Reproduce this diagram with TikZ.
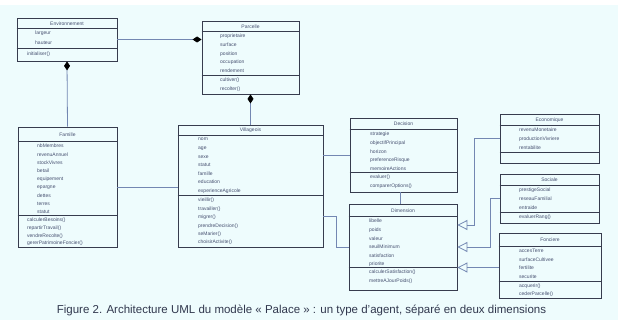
\documentclass[tikz,border=0pt]{standalone}
\usepackage{fontspec}
\setmainfont{Liberation Sans}
\usetikzlibrary{arrows.meta}

\definecolor{fond}{RGB}{238,252,253}
\definecolor{trait}{RGB}{55,60,78}
\definecolor{bleulien}{RGB}{115,135,178}
\definecolor{texte}{RGB}{70,80,112}

\tikzset{
  classe/.style={draw=trait, line width=0.8pt, inner sep=0pt},
  separ/.style={trait, line width=1.1pt},
  titre/.style={font=\fontsize{5}{6}\selectfont, text=texte, inner sep=0pt},
  liste/.style={font=\fontsize{5}{8.6}\selectfont, text=texte, align=left, inner sep=0pt, anchor=north west},
  lien/.style={draw=bleulien, line width=0.8pt},
  compo/.style={lien, -{Diamond[color=black,length=9pt,width=6pt]}},
  herit/.style={lien, -{Triangle[open,length=10pt,width=10pt]}},
}

\begin{document}
\begin{tikzpicture}[x=1pt,y=-1pt]
  \useasboundingbox (0,0) rectangle (618,320);
  \fill[fond] (0,5) rectangle (618,320);

  % classes
  \node[classe, minimum width=100pt, minimum height=43pt] (env) at (67,39.5) {};
  \draw[separ] (env.north west) ++(0,11) -- ++(100,0);
  \draw[separ] (env.north west) ++(0,31) -- ++(100,0);
  \node[titre] (env-t) at (67,23.5) {Environnement};
  \node[liste, font=\fontsize{5}{9.6}\selectfont] (env-a) at (35,31) {largeur\\hauteur};
  \node[liste] (env-o) at (27,52) {initialiser()};

  \node[classe, minimum width=97pt, minimum height=73pt] (parcelle) at (250.5,57.5) {};
  \draw[separ] (parcelle.north west) ++(0,11) -- ++(97,0);
  \draw[separ] (parcelle.north west) ++(0,55) -- ++(97,0);
  \node[titre] (parcelle-t) at (250.5,26.5) {Parcelle};
  \node[liste] (parcelle-a) at (220,34) {proprietaire\\surface\\position\\occupation\\rendement};
  \node[liste] (parcelle-o) at (220,78) {cultiver()\\recolter()};

  \node[classe, minimum width=99pt, minimum height=120pt] (famille) at (67.5,187) {};
  \draw[separ] (famille.north west) ++(0,15) -- ++(99,0);
  \draw[separ] (famille.north west) ++(0,89) -- ++(99,0);
  \node[titre] (famille-t) at (67.5,134.5) {Famille};
  \node[liste, font=\fontsize{5}{8.2}\selectfont] (famille-a) at (37,144) {nbMembres\\revenuAnnuel\\stockVivres\\betail\\equipement\\epargne\\dettes\\terres\\statut};
  \node[liste, font=\fontsize{5}{7.7}\selectfont] (famille-o) at (27,218) {calculerBesoins()\\repartirTravail()\\vendreRecolte()\\gererPatrimoineFoncier()};

  \node[classe, minimum width=145pt, minimum height=122pt] (villageois) at (250.5,186) {};
  \draw[separ] (villageois.north west) ++(0,11) -- ++(145,0);
  \draw[separ] (villageois.north west) ++(0,71) -- ++(145,0);
  \node[titre] (villageois-t) at (250.5,130.5) {Villageois};
  \node[liste] (villageois-a) at (198,138) {nom\\age\\sexe\\statut\\famille\\education\\experienceAgricole};
  \node[liste, font=\fontsize{5}{8.4}\selectfont] (villageois-o) at (198,198) {vieillir()\\travailler()\\migrer()\\prendreDecision()\\seMarier()\\choisirActivite()};

  \node[classe, minimum width=107pt, minimum height=74pt] (decision) at (403.5,155) {};
  \draw[separ] (decision.north west) ++(0,12) -- ++(107,0);
  \draw[separ] (decision.north west) ++(0,55) -- ++(107,0);
  \node[titre] (decision-t) at (403.5,124) {Decision};
  \node[liste] (decision-a) at (370,132) {strategie\\objectifPrincipal\\horizon\\preferenceRisque\\memoireActions};
  \node[liste] (decision-o) at (370,175) {evaluer()\\comparerOptions()};

  \node[classe, minimum width=108pt, minimum height=86pt] (dimension) at (403,247) {};
  \draw[separ] (dimension.north west) ++(0,13) -- ++(108,0);
  \draw[separ] (dimension.north west) ++(0,64) -- ++(108,0);
  \node[titre] (dimension-t) at (403,210.5) {Dimension};
  \node[liste] (dimension-a) at (369,219) {libelle\\poids\\valeur\\seuilMinimum\\satisfaction\\priorite};
  \node[liste] (dimension-o) at (369,270) {calculerSatisfaction()\\mettreAJourPoids()};

  \node[classe, minimum width=99pt, minimum height=49pt] (dimEco) at (549.5,138.5) {};
  \draw[separ] (dimEco.north west) ++(0,12) -- ++(99,0);
  \draw[separ] (dimEco.north west) ++(0,39) -- ++(99,0);
  \node[titre] (dimEco-t) at (549.5,120) {Economique};
  \node[liste] (dimEco-a) at (519,128) {revenuMonetaire\\productionVivriere\\rentabilite};

  \node[classe, minimum width=99pt, minimum height=49pt] (dimSoc) at (549.5,198.5) {};
  \draw[separ] (dimSoc.north west) ++(0,12) -- ++(99,0);
  \draw[separ] (dimSoc.north west) ++(0,39) -- ++(99,0);
  \node[titre] (dimSoc-t) at (549.5,180) {Sociale};
  \node[liste] (dimSoc-a) at (519,188) {prestigeSocial\\reseauFamilial\\entraide};
  \node[liste] (dimSoc-o) at (519,215) {evaluerRang()};

  \node[classe, minimum width=102pt, minimum height=65pt] (dimFon) at (550,265.5) {};
  \draw[separ] (dimFon.north west) ++(0,14) -- ++(102,0);
  \draw[separ] (dimFon.north west) ++(0,49) -- ++(102,0);
  \node[titre] (dimFon-t) at (550,240) {Fonciere};
  \node[liste] (dimFon-a) at (519,249) {accesTerre\\surfaceCultivee\\fertilite\\securite};
  \node[liste, font=\fontsize{5}{7.6}\selectfont] (dimFon-o) at (519,284) {acquerir()\\cederParcelle()};

  % liens
  \draw[compo] (famille.north) -- (env.south);
  \draw[compo] (env.east) -- (env.east -| parcelle.west);
  \draw[compo] (villageois.north) -- (parcelle.south);
  \draw[lien] (famille.east) -- (famille.east -| villageois.west);
  \draw[lien] (decision.west -| villageois.east) -- (decision.west);
  \draw[lien] ([yshift=-30pt]villageois.east) -- ++(13,0) |- (dimension.west);
  \draw[lien] (decision.south -| 400,0) -- (dimension.north -| 400,0);

  \coordinate (coude1) at (474,225);
  \coordinate (coude2) at (490,247);
  \draw[herit] (dimEco.west) -| (coude1) -- (coude1 -| dimension.east);
  \draw[herit] (dimSoc.west) -| (coude2) -- (dimension.east);
  \draw[herit] ([yshift=-2pt]dimFon.west) -- ([yshift=-2pt]dimFon.west -| dimension.east);

  \node[font=\fontsize{11.5}{13}\selectfont, text=texte!70!black] (legende) at (301.5,310) {Figure 2. Architecture UML du modèle « Palace » : un type d'agent, séparé en deux dimensions};
\end{tikzpicture}
\end{document}
